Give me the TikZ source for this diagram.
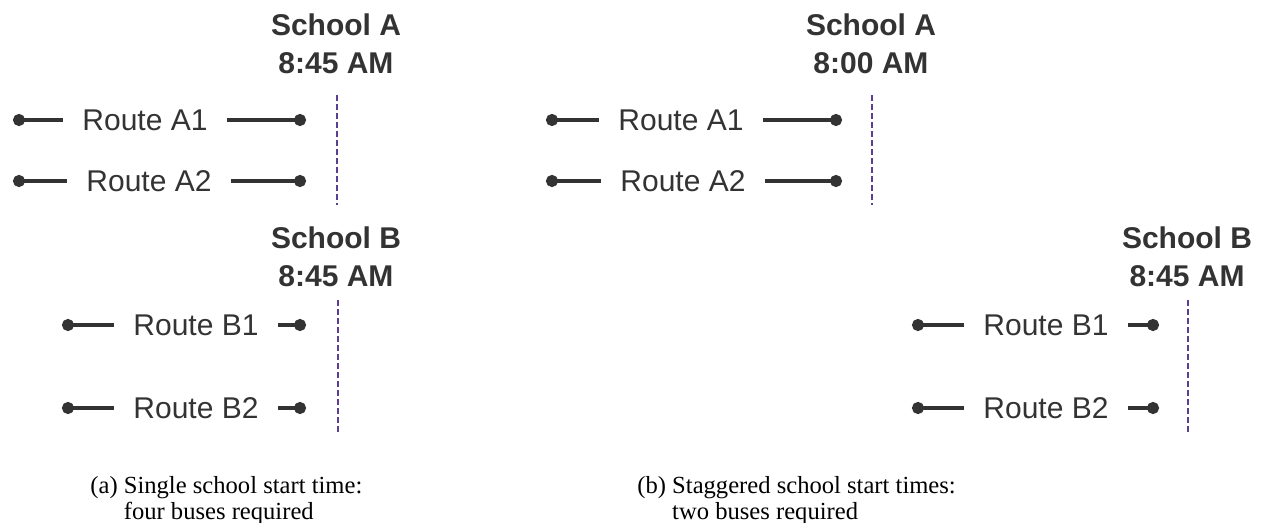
\documentclass[tikz,border=0pt]{standalone}
\usepackage{fontspec}
\setmainfont{Liberation Serif}
\newfontfamily\arialfont{Liberation Sans}
\usepackage{xcolor}
\usetikzlibrary{positioning,arrows.meta}

\definecolor{ink}{HTML}{333333}
\definecolor{bell}{HTML}{5B3E90}

\tikzset{
  route/.style={draw=ink, line width=1.65pt},
  routelbl/.style={font=\arialfont\fontsize{15}{18}\selectfont, text=ink, inner xsep=9.5pt, inner ysep=0pt},
  school/.style={font=\arialfont\bfseries\fontsize{15}{18.75}\selectfont, text=ink, align=center, inner sep=0pt},
  bellline/.style={draw=bell, line width=0.6pt, dash pattern=on 3pt off 1.5pt},
  caption/.style={font=\fontsize{12.3}{13}\selectfont, anchor=base west, inner sep=0pt}
}

\begin{document}
\begin{tikzpicture}[x=0.5pt, y=-0.5pt]
    \useasboundingbox (0,0) rectangle (1262,523);

    % (a) single start time
    \node [school] (saA) at (336,44) {School A\\8:45 AM};
    \coordinate (saAtop) at (337,95);
    \coordinate (saAbot) at (337,205);
    \draw [bellline] (saAtop) -- (saAbot);

    \coordinate (aA1l) at (13,120);
    \coordinate (aA1r) at (306,120);
    \node [routelbl] (aA1) at (145,120) {Route A1};
    \draw [route, {Circle[length=6pt]}-] (aA1l) -- (aA1.west);
    \draw [route, -{Circle[length=6pt]}] (aA1.east) -- (aA1r);

    \coordinate (aA2l) at (13,181);
    \coordinate (aA2r) at (306,181);
    \node [routelbl] (aA2) at (149,181) {Route A2};
    \draw [route, {Circle[length=6pt]}-] (aA2l) -- (aA2.west);
    \draw [route, -{Circle[length=6pt]}] (aA2.east) -- (aA2r);

    \node [school] (saB) at (336,257) {School B\\8:45 AM};
    \coordinate (saBtop) at (338,300);
    \coordinate (saBbot) at (338,433);
    \draw [bellline] (saBtop) -- (saBbot);

    \coordinate (aB1l) at (62,325);
    \coordinate (aB1r) at (306,325);
    \node [routelbl] (aB1) at (196,325) {Route B1};
    \draw [route, {Circle[length=6pt]}-] (aB1l) -- (aB1.west);
    \draw [route, -{Circle[length=6pt]}] (aB1.east) -- (aB1r);

    \coordinate (aB2l) at (62,408);
    \coordinate (aB2r) at (306,408);
    \node [routelbl] (aB2) at (196,408) {Route B2};
    \draw [route, {Circle[length=6pt]}-] (aB2l) -- (aB2.west);
    \draw [route, -{Circle[length=6pt]}] (aB2.east) -- (aB2r);

    \node [caption] (capa) at (90,493) {(a) \begin{tabular}[t]{@{}l@{}}Single school start time:\\four buses required\end{tabular}};

    % (b) staggered start times
    \node [school] (sbA) at (871,44) {School A\\8:00 AM};
    \coordinate (sbAtop) at (872,95);
    \coordinate (sbAbot) at (872,205);
    \draw [bellline] (sbAtop) -- (sbAbot);

    \coordinate (bA1l) at (546,120);
    \coordinate (bA1r) at (842,120);
    \node [routelbl] (bA1) at (681,120) {Route A1};
    \draw [route, {Circle[length=6pt]}-] (bA1l) -- (bA1.west);
    \draw [route, -{Circle[length=6pt]}] (bA1.east) -- (bA1r);

    \coordinate (bA2l) at (546,181);
    \coordinate (bA2r) at (842,181);
    \node [routelbl] (bA2) at (683,181) {Route A2};
    \draw [route, {Circle[length=6pt]}-] (bA2l) -- (bA2.west);
    \draw [route, -{Circle[length=6pt]}] (bA2.east) -- (bA2r);

    \node [school] (sbB) at (1187,257) {School B\\8:45 AM};
    \coordinate (sbBtop) at (1188,300);
    \coordinate (sbBbot) at (1188,433);
    \draw [bellline] (sbBtop) -- (sbBbot);

    \coordinate (bB1l) at (912,325);
    \coordinate (bB1r) at (1159,325);
    \node [routelbl] (bB1) at (1046,325) {Route B1};
    \draw [route, {Circle[length=6pt]}-] (bB1l) -- (bB1.west);
    \draw [route, -{Circle[length=6pt]}] (bB1.east) -- (bB1r);

    \coordinate (bB2l) at (912,408);
    \coordinate (bB2r) at (1159,408);
    \node [routelbl] (bB2) at (1046,408) {Route B2};
    \draw [route, {Circle[length=6pt]}-] (bB2l) -- (bB2.west);
    \draw [route, -{Circle[length=6pt]}] (bB2.east) -- (bB2r);

    \node [caption] (capb) at (637,493) {(b) \begin{tabular}[t]{@{}l@{}}Staggered school start times:\\two buses required\end{tabular}};

\end{tikzpicture}
\end{document}
